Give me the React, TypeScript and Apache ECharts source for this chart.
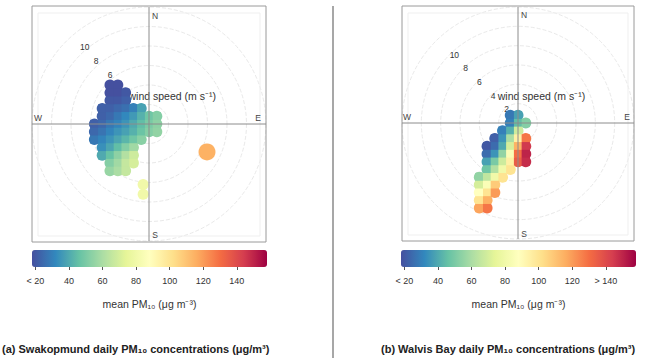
import React, { useEffect, useRef } from 'react';
import * as echarts from 'echarts';

// ---- colour scale (reversed Spectral, as in openair) ----
const PALETTE = ['#45509F', '#3288BD', '#66C2A5', '#ABDDA4', '#E6F598', '#FFFFBF', '#FEE08B', '#FDAE61', '#F46D43', '#D53E4F', '#9E0142'];
const COLOR_MIN = 18;
const COLOR_MAX = 158;
const COLOR_TICKS = [20, 40, 60, 80, 100, 120, 140];
const LEFT_TICK_LABELS = ['< 20', '40', '60', '80', '100', '120', '140'];
const RIGHT_TICK_LABELS = ['< 20', '40', '60', '80', '100', '120', '> 140'];
const COLORBAR_TITLE = 'mean PM\u2081\u2080 (\u03bcg m\u207b\u00b3)';

// ---- wind speed axis ----
const SPEED_MAX = 12;
const SPEED_STEP = 2;
const LEFT_SPEED_LABELS = [6, 8, 10];
const RIGHT_SPEED_LABELS = [2, 6, 8, 10];
const SPEED_NAME_AT = 4;
const SPEED_NAME = 'wind speed (m s\u207b\u00b9)';
const DIRECTIONS = ['N', 'E', 'S', 'W'];

const CAPTION_A = '(a) Swakopmund daily PM\u2081\u2080 concentrations (\u03bcg/m\u00b3)';
const CAPTION_B = '(b) Walvis Bay daily PM\u2081\u2080 concentrations (\u03bcg/m\u00b3)';

// ---- data: [u (m/s, east), v (m/s, north), mean PM10] ----
const SWAKOP_MAIN = [
  [-4.0, 4.0, 18], [-3.2, 4.0, 18],
  [-4.0, 3.2, 18], [-3.2, 3.2, 18], [-2.4, 3.2, 20],
  [-4.0, 2.4, 20], [-3.2, 2.4, 20], [-2.4, 2.4, 22],
  [-4.8, 1.6, 22], [-4.0, 1.6, 22], [-3.2, 1.6, 24], [-2.4, 1.6, 26], [-1.6, 1.6, 30], [-0.8, 1.6, 38],
  [-4.8, 0.8, 22], [-4.0, 0.8, 24], [-3.2, 0.8, 28], [-2.4, 0.8, 32], [-1.6, 0.8, 36], [-0.8, 0.8, 42], [0, 0.8, 48], [0.8, 0.8, 52],
  [-5.6, 0, 22], [-4.8, 0, 24], [-4.0, 0, 28], [-3.2, 0, 31], [-2.4, 0, 35], [-1.6, 0, 40], [-0.8, 0, 45], [0, 0, 50], [0.8, 0, 54],
  [-5.6, -0.8, 24], [-4.8, -0.8, 27], [-4.0, -0.8, 31], [-3.2, -0.8, 35], [-2.4, -0.8, 38], [-1.6, -0.8, 42], [-0.8, -0.8, 47], [0, -0.8, 52], [0.8, -0.8, 55],
  [-5.6, -1.6, 28], [-4.8, -1.6, 31], [-4.0, -1.6, 35], [-3.2, -1.6, 39], [-2.4, -1.6, 43], [-1.6, -1.6, 48], [-0.8, -1.6, 53],
  [-4.8, -2.4, 34], [-4.0, -2.4, 39], [-3.2, -2.4, 45], [-2.4, -2.4, 52], [-1.6, -2.4, 58],
  [-4.8, -3.2, 40], [-4.0, -3.2, 46], [-3.2, -3.2, 54], [-2.4, -3.2, 62], [-1.6, -3.2, 68],
  [-4.0, -4.0, 52], [-3.2, -4.0, 58], [-2.4, -4.0, 66], [-1.6, -4.0, 70],
  [-4.0, -4.8, 56], [-3.2, -4.8, 60], [-2.4, -4.8, 66],
];
const SWAKOP_SOUTH = [[-0.6, -6.2, 80], [-0.6, -7.2, 80]];
const SWAKOP_ESE = [[5.95, -2.87, 115]];

const WALVIS_MAIN = [
  [-0.8, 0.8, 28], [0, 0.8, 38],
  [-0.8, 0, 30], [0, 0, 45], [0.8, 0, 52],
  [-1.6, -0.8, 30], [-0.8, -0.8, 42], [0, -0.8, 68],
  [-2.4, -1.6, 22], [-1.6, -1.6, 35], [-0.8, -1.6, 60], [0, -1.6, 95], [0.8, -1.6, 128],
  [-3.2, -2.4, 20], [-2.4, -2.4, 25], [-1.6, -2.4, 40], [-0.8, -2.4, 70], [0, -2.4, 115], [0.8, -2.4, 145],
  [-3.2, -3.2, 25], [-2.4, -3.2, 35], [-1.6, -3.2, 55], [-0.8, -3.2, 85], [0, -3.2, 130], [0.8, -3.2, 150],
  [-3.2, -4.0, 38], [-2.4, -4.0, 50], [-1.6, -4.0, 68], [-0.8, -4.0, 95], [0, -4.0, 135], [0.8, -4.0, 148],
  [-3.2, -4.8, 48], [-2.4, -4.8, 62], [-1.6, -4.8, 80], [-0.8, -4.8, 100],
  [-4.0, -5.6, 55], [-3.2, -5.6, 65], [-2.4, -5.6, 80], [-1.6, -5.6, 100],
  [-4.0, -6.4, 70], [-3.2, -6.4, 85], [-2.4, -6.4, 108],
  [-4.0, -7.2, 88], [-3.2, -7.2, 100], [-2.4, -7.2, 120],
  [-4.0, -8.0, 100], [-3.2, -8.0, 115],
  [-4.0, -8.8, 118], [-3.2, -8.8, 128],
];

// ---- layout ----
const FONT = 'Liberation Sans';
const PANELS = [
  { cx: 149, cy: 124, r: 117, box: [32, 6, 234, 236], bar: [32, 250, 235, 17], labels: LEFT_TICK_LABELS, speeds: LEFT_SPEED_LABELS, caption: CAPTION_A, capX: 2, lift: 16 },
  { cx: 518, cy: 123, r: 116, box: [402, 6, 232, 235], bar: [401, 250, 235, 17], labels: RIGHT_TICK_LABELS, speeds: RIGHT_SPEED_LABELS, caption: CAPTION_B, capX: 381, lift: 0 },
];
const DIR_OFFSETS = [[6, -108], [109, -6], [6, 111], [-111, -6]];
const CELL = 8.2;
const CELL_ROUND = 11;

function buildOption() {
  const polar: any[] = [];
  const angleAxis: any[] = [];
  const radiusAxis: any[] = [];
  const grid: any[] = [];
  const xAxis: any[] = [];
  const yAxis: any[] = [];
  const graphic: any[] = [];

  // colour bar axes (grid 0, 1)
  PANELS.forEach((p, i) => {
    const [bx, by, bw, bh] = p.bar;
    grid.push({ left: bx, top: by, width: bw, height: bh });
    xAxis.push({
      gridIndex: i, type: 'value', min: COLOR_MIN, max: COLOR_MAX, position: 'bottom',
      axisLine: { show: false }, splitLine: { show: false },
      axisTick: { show: true, customValues: COLOR_TICKS, length: 3, lineStyle: { color: '#555' } },
      axisLabel: {
        customValues: COLOR_TICKS, fontSize: 9, color: '#333', margin: 9, fontFamily: FONT,
        formatter: (v: number) => { const k = COLOR_TICKS.indexOf(v); return k >= 0 ? p.labels[k] : ''; },
      },
      name: COLORBAR_TITLE, nameLocation: 'middle', nameGap: 31,
      nameTextStyle: { fontSize: 10.5, color: '#333', fontFamily: FONT },
    });
    yAxis.push({ gridIndex: i, type: 'value', min: 0, max: 1, show: false });
  });

  // wind component planes (grid 2, 3) matching the polar discs
  PANELS.forEach((p, i) => {
    grid.push({ left: p.cx - p.r, top: p.cy - p.r, width: 2 * p.r, height: 2 * p.r });
    xAxis.push({ gridIndex: 2 + i, type: 'value', min: -SPEED_MAX, max: SPEED_MAX, show: false });
    yAxis.push({ gridIndex: 2 + i, type: 'value', min: -SPEED_MAX, max: SPEED_MAX, show: false });
  });

  PANELS.forEach((p, i) => {
    const gridPolar = i * 2;
    const crossPolar = i * 2 + 1;
    polar.push({ center: [p.cx, p.cy], radius: p.r });
    polar.push({ center: [p.cx, p.cy], radius: p.r });
    // speed rings, labelled along the NW diagonal
    angleAxis.push({
      polarIndex: gridPolar, type: 'value', min: 0, max: 360, startAngle: 135,
      axisLine: { show: false }, axisTick: { show: false }, axisLabel: { show: false }, splitLine: { show: false },
    });
    radiusAxis.push({
      polarIndex: gridPolar, type: 'value', min: 0, max: SPEED_MAX, interval: SPEED_STEP,
      axisLine: { show: false }, axisTick: { show: false },
      axisLabel: {
        margin: 0, align: 'left', verticalAlign: 'middle', fontSize: 8.5, color: '#333', fontFamily: FONT,
        formatter: (v: number) => v === SPEED_NAME_AT ? `{n|${v}} {w|${SPEED_NAME}}` : p.speeds.includes(v) ? `{m|${v}}` : '',
        rich: {
          n: { fontSize: 8.5, color: '#333' },
          m: { fontSize: 8.5, color: '#333', padding: [0, 0, p.lift, 0] },
          w: { fontSize: 10.5, color: '#333' },
        },
      },
      splitLine: { show: true, lineStyle: { color: '#e9e9e9', type: 'dashed', width: 1 } },
    });
    // compass cross
    angleAxis.push({
      polarIndex: crossPolar, type: 'value', min: 0, max: 360, interval: 90, startAngle: 90, clockwise: true, z: 5,
      axisLine: { show: false }, axisTick: { show: false }, axisLabel: { show: false },
      splitLine: { show: true, lineStyle: { color: '#8c8c8c', width: 1 } },
    });
    radiusAxis.push({ polarIndex: crossPolar, type: 'value', min: 0, max: SPEED_MAX, show: false });

    // frame
    const [fx, fy, fw, fh] = p.box;
    graphic.push({ type: 'rect', z: 1, shape: { x: fx + 6, y: fy + 7, width: fw - 12, height: fh - 13 }, style: { fill: 'none', stroke: '#efefef', lineWidth: 1 } });
    graphic.push({ type: 'rect', z: 1, shape: { x: fx, y: fy, width: fw, height: fh }, style: { fill: 'none', stroke: '#9a9a9a', lineWidth: 1 } });
    DIRECTIONS.forEach((d, k) => {
      graphic.push({
        type: 'text', z: 20, x: p.cx + DIR_OFFSETS[k][0], y: p.cy + DIR_OFFSETS[k][1],
        style: { text: d, fontSize: 8.5, fontFamily: FONT, fill: '#444', textAlign: 'center', textVerticalAlign: 'middle' },
      });
    });
    graphic.push({
      type: 'text', z: 20, x: p.capX, y: 349,
      style: { text: p.caption, fontSize: 11, fontWeight: 'bold', fontFamily: FONT, fill: '#222', textAlign: 'left', textVerticalAlign: 'middle' },
    });
  });

  graphic.push({ type: 'line', z: 20, shape: { x1: 333, y1: 6, x2: 333, y2: 358 }, style: { stroke: '#8a8a8a', lineWidth: 1.5 } });

  const scatter = (gridIdx: number, data: number[][], size: number, symbol: string, z: number) => ({
    type: 'scatter', xAxisIndex: gridIdx, yAxisIndex: gridIdx, data, symbolSize: size, symbol,
    itemStyle: { opacity: 1 }, silent: true, z,
  });

  const vm = (seriesIndex: number[], bar: number[]) => ({
    type: 'continuous', seriesIndex, dimension: 2, min: COLOR_MIN, max: COLOR_MAX,
    orient: 'horizontal', left: bar[0], top: bar[1], itemWidth: bar[3], itemHeight: bar[2], calculable: false,
    padding: 0, hoverLink: false, inRange: { color: PALETTE },
  });

  return {
    animation: false,
    backgroundColor: '#fff',
    textStyle: { fontFamily: FONT },
    polar, angleAxis, radiusAxis, grid, xAxis, yAxis,
    visualMap: [vm([0, 1, 2, 3], PANELS[0].bar), vm([4, 5], PANELS[1].bar)],
    series: [
      // Swakopmund: rounded under-layer, then the cell surface
      scatter(2, SWAKOP_MAIN, CELL_ROUND, 'circle', 2),
      scatter(2, SWAKOP_MAIN, CELL, 'rect', 3),
      scatter(2, SWAKOP_SOUTH, 11, 'circle', 3),
      scatter(2, SWAKOP_ESE, 17, 'circle', 3),
      // Walvis Bay
      scatter(3, WALVIS_MAIN, CELL_ROUND, 'circle', 2),
      scatter(3, WALVIS_MAIN, CELL, 'rect', 3),
    ],
    graphic,
  };
}

export default function App() {
  const ref = useRef<HTMLDivElement>(null);
  useEffect(() => {
    document.body.style.margin = '0';
    const chart = echarts.init(ref.current!, undefined, { renderer: 'svg' });
    chart.setOption(buildOption() as any);
    return () => chart.dispose();
  }, []);
  return <div ref={ref} style={{ width: 653, height: 358 }} />;
}
